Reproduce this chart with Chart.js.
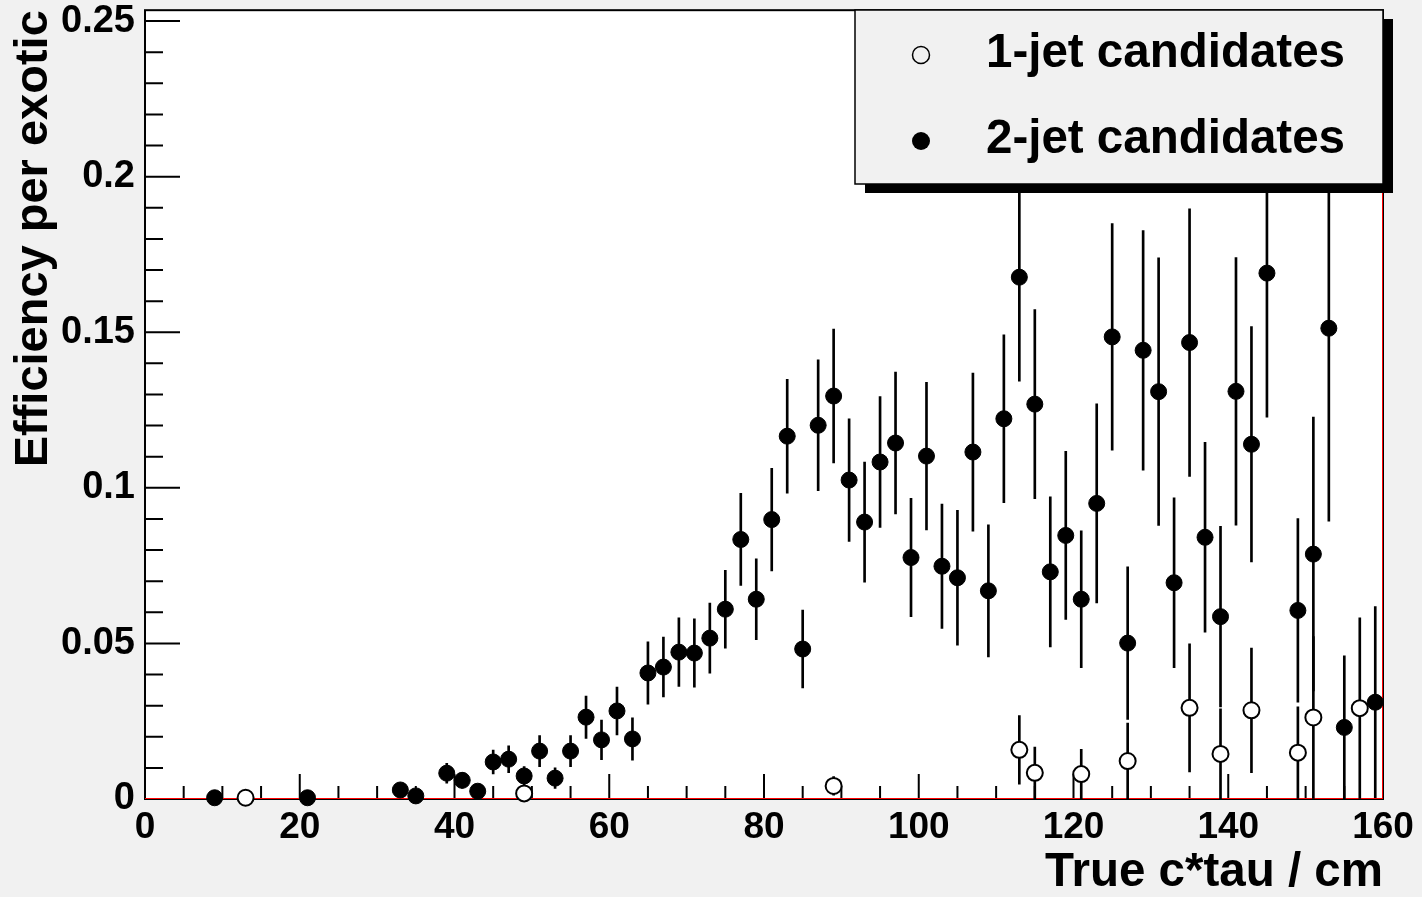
<!DOCTYPE html>
<html>
<head>
<meta charset="utf-8">
<script src="https://cdn.jsdelivr.net/npm/chart.js@4.4.1/dist/chart.umd.min.js"></script>
<style>
  html, body { margin: 0; padding: 0; background: #f1f1f1; }
  #wrap { width: 1422px; height: 897px; position: relative; }
</style>
</head>
<body>
<div id="wrap"><canvas id="myChart1"></canvas></div>
<script>
// 2-jet candidates (filled markers)
const twoJetX = [9, 21, 33, 35, 39, 41, 43, 45, 47, 49, 51, 53, 55, 57, 59, 61, 63, 65, 67, 69, 71, 73, 75, 77, 79,
    81, 83, 85, 87, 89, 91, 93, 95, 97, 99, 101, 103, 105, 107, 109, 111, 113, 115, 117, 119, 121, 123, 125,
    127, 129, 131, 133, 135, 137, 139, 141, 143, 145, 149, 151, 153, 155, 159];
const twoJetY = [0.0004, 0.0004, 0.0029, 0.001, 0.0083, 0.006, 0.0025, 0.0119, 0.0128, 0.0074, 0.0154, 0.0067,
    0.0154, 0.0263, 0.019, 0.0283, 0.0193, 0.0405, 0.0424, 0.0472, 0.0469, 0.0517, 0.061, 0.0834, 0.0642,
    0.0898, 0.1166, 0.0482, 0.1201, 0.1295, 0.1025, 0.089, 0.1083, 0.1144, 0.0776, 0.1102, 0.0748, 0.0711,
    0.1115, 0.0669, 0.1222, 0.1677, 0.1269, 0.073, 0.0847, 0.0642, 0.095, 0.1485, 0.0501, 0.1442, 0.1309,
    0.0695, 0.1467, 0.0841, 0.0586, 0.131, 0.114, 0.169, 0.0606, 0.0787, 0.1513, 0.023, 0.0311];
const twoJetErr = [0, 0, 0.0015, 0.001, 0.0032, 0.0025, 0.0015, 0.0038, 0.0043, 0.003, 0.005, 0.0033,
    0.005, 0.0068, 0.0064, 0.0077, 0.0068, 0.01, 0.0096, 0.011, 0.011, 0.0113, 0.0125, 0.0148, 0.013,
    0.0165, 0.0183, 0.0125, 0.021, 0.0215, 0.0197, 0.0193, 0.021, 0.0228, 0.019, 0.0237, 0.02, 0.0217,
    0.0254, 0.0212, 0.027, 0.0334, 0.0304, 0.0241, 0.027, 0.022, 0.032, 0.0364, 0.0245, 0.0385, 0.043,
    0.0273, 0.043, 0.0305, 0.029, 0.043, 0.0378, 0.0463, 0.0295, 0.044, 0.062, 0.023, 0.0307];

// 1-jet candidates (open markers)
const oneJetX = [13, 49, 89, 113, 115, 121, 127, 135, 139, 143, 149, 151, 157];
const oneJetY = [0.0004, 0.0018, 0.0042, 0.0158, 0.0084, 0.008, 0.0122, 0.0293, 0.0145, 0.0285, 0.0149, 0.0262, 0.0292];
const oneJetErr = [0, 0.0012, 0.003, 0.011, 0.0083, 0.008, 0.0122, 0.0206, 0.0145, 0.02, 0.0147, 0.026, 0.029];

// empty reference histogram outline (red)
const redLineX = [0, 160, 160];
const redLineY = [0, 0, 0.2535];

const xTickValues = [0, 20, 40, 60, 80, 100, 120, 140, 160];
const xTickLabels = ['0', '20', '40', '60', '80', '100', '120', '140', '160'];
const yTickValues = [0, 0.05, 0.1, 0.15, 0.2, 0.25];
const yTickLabels = ['0', '0.05', '0.1', '0.15', '0.2', '0.25'];

const legendLabels = ['1-jet candidates', '2-jet candidates'];

const FONT = 'Liberation Sans, Arial, Helvetica, sans-serif';

function isMajor(v, list) {
    return list.findIndex(m => Math.abs(m - v) < 1e-9);
}

// error bars of both series, as thin floating bars
const errBars = [];
for (let i = 0; i < twoJetX.length; i++) {
    if (twoJetErr[i] > 0) errBars.push({x: twoJetX[i], y: [twoJetY[i] - twoJetErr[i], twoJetY[i] + twoJetErr[i]]});
}
for (let i = 0; i < oneJetX.length; i++) {
    if (oneJetErr[i] > 0) errBars.push({x: oneJetX[i], y: [oneJetY[i] - oneJetErr[i], oneJetY[i] + oneJetErr[i]]});
}

const rootStyle = {
    id: 'rootStyle',
    beforeDraw(chart) {
        const {ctx, chartArea: a} = chart;
        ctx.save();
        ctx.fillStyle = '#ffffff';
        ctx.fillRect(a.left, a.top, a.right - a.left, a.bottom - a.top);
        ctx.restore();
    },
    beforeDatasetsDraw(chart) {
        const {ctx, chartArea: a} = chart;
        const xs = chart.scales.x, ys = chart.scales.y;
        ctx.save();
        ctx.strokeStyle = '#000';
        ctx.lineWidth = 2;
        ctx.strokeRect(a.left, a.top, a.right - a.left, a.bottom - a.top);
        ctx.beginPath();
        ys.ticks.forEach(t => {
            const py = ys.getPixelForValue(t.value);
            const len = isMajor(t.value, yTickValues) >= 0 ? 35 : 18;
            ctx.moveTo(a.left, py);
            ctx.lineTo(a.left + len, py);
        });
        xs.ticks.forEach(t => {
            const px = xs.getPixelForValue(t.value);
            const len = isMajor(t.value, xTickValues) >= 0 ? 25 : 13;
            ctx.moveTo(px, a.bottom);
            ctx.lineTo(px, a.bottom - len);
        });
        ctx.stroke();
        ctx.restore();
    },
    afterDraw(chart) {
        // ROOT style legend box with shadow
        const ctx = chart.ctx;
        const bx = 855, by = 10, bw = 528, bh = 174;
        ctx.save();
        ctx.fillStyle = '#000';
        ctx.fillRect(bx + 10, by + 9, bw, bh);
        ctx.fillStyle = '#f1f1f1';
        ctx.fillRect(bx, by, bw, bh);
        ctx.strokeStyle = '#000';
        ctx.lineWidth = 1.5;
        ctx.strokeRect(bx, by, bw, bh);

        ctx.fillStyle = '#000';
        ctx.beginPath();
        ctx.arc(921, 55, 8.5, 0, Math.PI * 2);
        ctx.lineWidth = 1.5;
        ctx.stroke();
        ctx.beginPath();
        ctx.arc(921, 141, 9, 0, Math.PI * 2);
        ctx.fill();

        ctx.font = 'bold 47.5px ' + FONT;
        ctx.textBaseline = 'alphabetic';
        ctx.textAlign = 'left';
        ctx.fillText(legendLabels[0], 986, 67);
        ctx.fillText(legendLabels[1], 986, 153);
        ctx.restore();
    }
};

const ctx = document.getElementById('myChart1').getContext('2d');
const myChart = new Chart(ctx, {
    type: 'scatter',
    data: {
        datasets: [
            {
                label: legendLabels[1],
                type: 'line',
                data: twoJetX.map((x, i) => ({x: x, y: twoJetY[i]})),
                showLine: false,
                pointStyle: 'circle',
                pointRadius: 8,
                backgroundColor: '#000',
                borderColor: '#000',
                borderWidth: 1,
                clip: false,
                order: 1
            },
            {
                label: legendLabels[0],
                type: 'line',
                data: oneJetX.map((x, i) => ({x: x, y: oneJetY[i]})),
                showLine: false,
                pointStyle: 'circle',
                pointRadius: 8,
                backgroundColor: '#fff',
                borderColor: '#000',
                borderWidth: 2,
                clip: false,
                order: 2
            },
            {
                label: 'errors',
                type: 'bar',
                data: errBars,
                backgroundColor: '#000',
                borderWidth: 0,
                barThickness: 2,
                order: 3
            },
            {
                label: 'hist',
                type: 'line',
                data: redLineX.map((x, i) => ({x: x, y: redLineY[i]})),
                borderColor: '#ff0000',
                borderWidth: 2,
                pointRadius: 0,
                showLine: true,
                fill: false,
                order: 4
            }
        ]
    },
    options: {
        responsive: true,
        maintainAspectRatio: false,
        animation: false,
        events: [],
        layout: { padding: { top: 10, right: 39, left: 0, bottom: 0 } },
        plugins: {
            legend: { display: false },
            tooltip: { enabled: false }
        },
        scales: {
            x: {
                type: 'linear',
                min: 0,
                max: 160,
                offset: false,
                grid: { display: false, offset: false, drawTicks: false },
                border: { display: false },
                afterBuildTicks: s => {
                    const t = [];
                    for (let v = 0; v <= 160; v += 5) t.push({value: v});
                    s.ticks = t;
                },
                afterFit: s => { s.height = 98; },
                ticks: {
                    autoSkip: false,
                    maxRotation: 0,
                    padding: 7,
                    color: '#000',
                    font: { family: FONT, size: 37, weight: 'bold' },
                    callback: v => {
                        const i = isMajor(v, xTickValues);
                        return i >= 0 ? xTickLabels[i] : '';
                    }
                },
                title: {
                    display: true,
                    text: 'True c*tau / cm',
                    align: 'end',
                    color: '#000',
                    padding: 0,
                    font: { family: FONT, size: 47.5, weight: 'bold', lineHeight: 1 }
                }
            },
            y: {
                min: 0,
                max: 0.2535,
                grid: { display: false, drawTicks: false },
                border: { display: false },
                afterBuildTicks: s => {
                    const t = [];
                    for (let k = 0; k <= 25; k++) t.push({value: k / 100});
                    s.ticks = t;
                },
                afterFit: s => { s.width = 145; },
                ticks: {
                    autoSkip: false,
                    padding: 10,
                    color: '#000',
                    font: { family: FONT, size: 38, weight: 'bold', lineHeight: 0.01 },
                    callback: v => {
                        const i = isMajor(v, yTickValues);
                        return i >= 0 ? yTickLabels[i] : '';
                    }
                },
                title: {
                    display: true,
                    text: 'Efficiency per exotic',
                    align: 'end',
                    color: '#000',
                    padding: { top: 11, bottom: 0 },
                    font: { family: FONT, size: 47, weight: 'bold', lineHeight: 1 }
                }
            }
        }
    },
    plugins: [rootStyle]
});
</script>
</body>
</html>
